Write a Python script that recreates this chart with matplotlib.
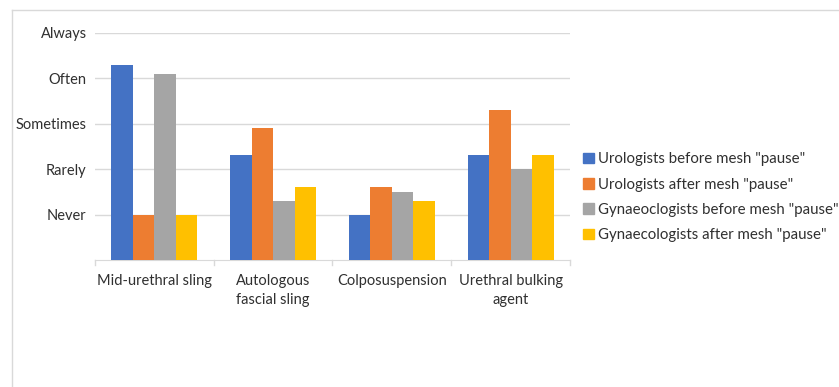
import matplotlib.pyplot as plt
import matplotlib.patches as mpatches
from matplotlib.lines import Line2D
import numpy as np

plt.rcParams["font.family"] = ["Lato", "DejaVu Sans"]

# data (0 = axis, 1 = Never ... 5 = Always)
procedures = ["Mid-urethral sling", "Autologous\nfascial sling",
              "Colposuspension", "Urethral bulking\nagent"]
levels = ["Never", "Rarely", "Sometimes", "Often", "Always"]
uro_before = [4.3, 2.3, 1.0, 2.3]
uro_after = [1.0, 2.9, 1.6, 3.3]
gyn_before = [4.1, 1.3, 1.5, 2.0]
gyn_after = [1.0, 1.6, 1.3, 2.3]
series_names = ['Urologists before mesh "pause"',
                'Urologists after mesh "pause"',
                'Gynaeoclogists before mesh "pause"',
                'Gynaecologists after mesh "pause"']
colors = ["#4472C4", "#ED7D31", "#A5A5A5", "#FFC000"]
text_col = "#303030"

fig = plt.figure(figsize=(8.39, 3.87), dpi=100)
ax = fig.add_axes([0.1132, 0.3282, 0.5662, 0.5873])

x = np.arange(len(procedures))
w = 0.181
series = [uro_before, uro_after, gyn_before, gyn_after]
for i, (vals, c) in enumerate(zip(series, colors)):
    ax.bar(x + (i - 1.5) * w, vals, width=w, color=c, zorder=3)

ax.set_xlim(-0.5, len(procedures) - 0.5)
ax.set_ylim(0, 5)
ax.set_yticks(range(1, 6))
ax.set_yticklabels(levels, fontsize=10.5, color=text_col)
ax.yaxis.grid(True, color="#D9D9D9", linewidth=1, zorder=0)
ax.tick_params(axis="y", length=0, pad=6)

ax.set_xticks(x)
ax.set_xticklabels(procedures, fontsize=10.5, color=text_col, linespacing=1.5)
ax.tick_params(axis="x", length=0, pad=10)
for b in np.arange(-0.5, len(procedures), 1.0):
    ax.plot([b, b], [0, -0.1], color="#D9D9D9", lw=1, clip_on=False, zorder=2)

for s in ["top", "right", "left"]:
    ax.spines[s].set_visible(False)
ax.spines["bottom"].set_color("#D9D9D9")

handles = [mpatches.Patch(color=c, label=n) for c, n in zip(colors, series_names)]
fig.legend(handles=handles, loc="center left", bbox_to_anchor=(0.695, 0.49),
           frameon=False, fontsize=10.8, handlelength=0.7, handleheight=0.7,
           handletextpad=0.3, labelspacing=0.75, labelcolor=text_col,
           borderpad=0, borderaxespad=0)

# outer chart frame (top and left edges)
fig.add_artist(Line2D([0.014, 1.0], [0.974, 0.974], color="#D9D9D9", lw=1))
fig.add_artist(Line2D([0.014, 0.014], [0.0, 0.974], color="#D9D9D9", lw=1))

fig.savefig("out.png", dpi=100)
